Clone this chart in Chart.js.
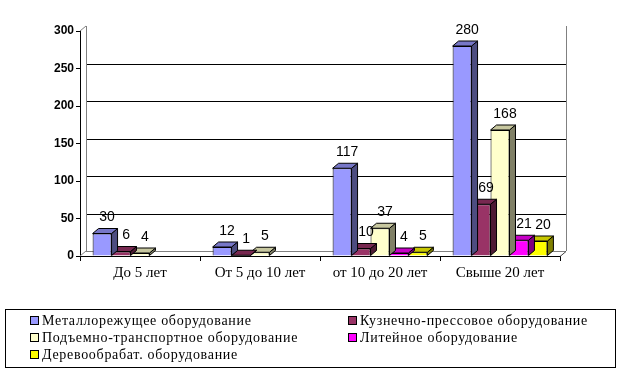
<!DOCTYPE html>
<html>
<head>
<meta charset="utf-8">
<script src="https://cdn.jsdelivr.net/npm/chart.js@4/dist/chart.umd.min.js"></script>
<style>
  body { margin: 0; background: #fff; }
  #wrap { width: 617px; height: 378px; }
</style>
</head>
<body>
<div id="wrap"><canvas id="chart" width="617" height="378"></canvas></div>
<script>
const categories = ['До 5 лет', 'От 5 до 10 лет', 'от 10 до 20 лет', 'Свыше 20 лет']
const seriesNames = [
    'Металлорежущее оборудование',
    'Кузнечно-прессовое оборудование',
    'Подъемно-транспортное оборудование',
    'Литейное оборудование',
    'Деревообрабат. оборудование'
]
const metalCutting = [30, 12, 117, 280]
const forging = [6, 1, 10, 69]
const lifting = [4, 5, 37, 168]
const foundry = [null, null, 4, 21]
const woodworking = [null, null, 5, 20]
const yMin = 0, yMax = 300, yStep = 50

const colors = ['#9999FF', '#993366', '#FFFFCC', '#FF00FF', '#FFFF00']
const depth = { x: 6, y: -5 }

const shade = (hex, k) => {
    const n = parseInt(hex.slice(1), 16)
    const c = [(n >> 16) & 255, (n >> 8) & 255, n & 255].map(v => Math.round(v * k))
    return `rgb(${c.join(',')})`
}

// back wall + gridlines, shifted by the 3D depth
const wall = {
    id: 'wall',
    beforeDatasetsDraw(chart) {
        const { ctx, chartArea: a, scales: { y } } = chart
        ctx.save()
        ctx.lineWidth = 1
        y.ticks.forEach(t => {
            if (t.value === yMax) return
            const py = Math.round(y.getPixelForValue(t.value) + depth.y) + 0.5
            ctx.strokeStyle = t.value === 0 ? '#808080' : '#000'
            ctx.beginPath()
            ctx.moveTo(a.left + depth.x, py)
            ctx.lineTo(a.right + depth.x, py)
            ctx.stroke()
        })
        ctx.strokeStyle = '#808080'
        ctx.beginPath()
        ctx.moveTo(a.left + depth.x + 0.5, a.top + depth.y)
        ctx.lineTo(a.left + depth.x + 0.5, a.bottom + depth.y)
        ctx.moveTo(a.right + depth.x + 0.5, a.top + depth.y)
        ctx.lineTo(a.right + depth.x + 0.5, a.bottom + depth.y)
        ctx.moveTo(a.left, a.top)
        ctx.lineTo(a.left + depth.x, a.top + depth.y)
        ctx.moveTo(a.left, a.bottom)
        ctx.lineTo(a.left + depth.x, a.bottom + depth.y)
        ctx.stroke()
        ctx.strokeStyle = '#404040'
        ctx.beginPath()
        ctx.moveTo(a.right, a.bottom + 0.5)
        ctx.lineTo(a.right + depth.x, a.bottom + depth.y + 0.5)
        ctx.stroke()
        ctx.restore()
    }
}

// side and top faces of every bar
const bars3d = {
    id: 'bars3d',
    afterDatasetDraw(chart, args) {
        const { ctx } = chart
        const ds = chart.data.datasets[args.index]
        ctx.save()
        ctx.lineWidth = 1
        ctx.strokeStyle = '#000'
        args.meta.data.forEach((bar, i) => {
            if (ds.data[i] == null) return
            const { x, y, base, width } = bar.getProps(['x', 'y', 'base', 'width'], true)
            const l = x - width / 2, r = x + width / 2
            ctx.fillStyle = shade(ds.backgroundColor, 0.5)
            ctx.beginPath()
            ctx.moveTo(r, y)
            ctx.lineTo(r + depth.x, y + depth.y)
            ctx.lineTo(r + depth.x, base + depth.y)
            ctx.lineTo(r, base)
            ctx.closePath()
            ctx.fill()
            ctx.stroke()
            ctx.fillStyle = shade(ds.backgroundColor, 0.78)
            ctx.beginPath()
            ctx.moveTo(l, y)
            ctx.lineTo(l + depth.x, y + depth.y)
            ctx.lineTo(r + depth.x, y + depth.y)
            ctx.lineTo(r, y)
            ctx.closePath()
            ctx.fill()
            ctx.stroke()
        })
        ctx.restore()
    }
}

const valueLabels = {
    id: 'valueLabels',
    afterDatasetsDraw(chart) {
        const { ctx } = chart
        ctx.save()
        ctx.font = '14px "Liberation Sans", Arial, sans-serif'
        ctx.fillStyle = '#000'
        ctx.textAlign = 'center'
        ctx.textBaseline = 'middle'
        chart.data.datasets.forEach((ds, di) => {
            chart.getDatasetMeta(di).data.forEach((bar, i) => {
                if (ds.data[i] == null) return
                ctx.fillText(ds.data[i], bar.x + 5, bar.y - 16)
            })
        })
        ctx.restore()
    }
}

const boxLegend = {
    id: 'boxLegend',
    afterDraw(chart) {
        const { ctx } = chart
        ctx.save()
        ctx.strokeStyle = '#000'
        ctx.lineWidth = 1
        ctx.strokeRect(5.5, 309.5, 610, 58)
        ctx.font = '14px "Liberation Serif", "Times New Roman", serif'
        ctx.letterSpacing = '0.7px'
        ctx.textBaseline = 'middle'
        ctx.textAlign = 'left'
        chart.data.datasets.forEach((ds, i) => {
            const x = [30, 348][i % 2]
            const y = 321 + Math.floor(i / 2) * 17
            ctx.fillStyle = ds.backgroundColor
            ctx.fillRect(x + 0.5, y - 4.5, 8, 8)
            ctx.strokeRect(x + 0.5, y - 4.5, 8, 8)
            ctx.fillStyle = '#000'
            ctx.fillText(ds.label, x + 12, y)
        })
        ctx.restore()
    }
}

const values = [metalCutting, forging, lifting, foundry, woodworking]

new Chart(document.getElementById('chart'), {
    type: 'bar',
    data: {
        labels: categories,
        datasets: values.map((data, i) => ({
            label: seriesNames[i],
            data,
            backgroundColor: colors[i],
            borderColor: '#000',
            borderWidth: 1,
            categoryPercentage: 0.79,
            barPercentage: 1
        }))
    },
    options: {
        responsive: false,
        animation: false,
        layout: { padding: { left: 0, top: 31, right: 57, bottom: 92 } },
        plugins: {
            legend: { display: false },
            tooltip: { enabled: false }
        },
        scales: {
            x: {
                grid: { offset: true, drawOnChartArea: false, tickLength: 5, color: '#000' },
                border: { color: '#000' },
                ticks: {
                    color: '#000',
                    padding: 3,
                    font: { family: '"Liberation Serif", "Times New Roman", serif', size: 15 }
                },
                afterFit: s => { s.height = 30 }
            },
            y: {
                min: yMin,
                max: yMax,
                grid: { drawOnChartArea: false, tickLength: 4, color: '#000' },
                border: { color: '#000' },
                ticks: {
                    stepSize: yStep,
                    color: '#000',
                    padding: 2,
                    font: { family: '"Liberation Sans", Arial, sans-serif', size: 12, weight: 'bold' }
                },
                afterFit: s => { s.width = 80 }
            }
        }
    },
    plugins: [wall, bars3d, valueLabels, boxLegend]
})
</script>
</body>
</html>
